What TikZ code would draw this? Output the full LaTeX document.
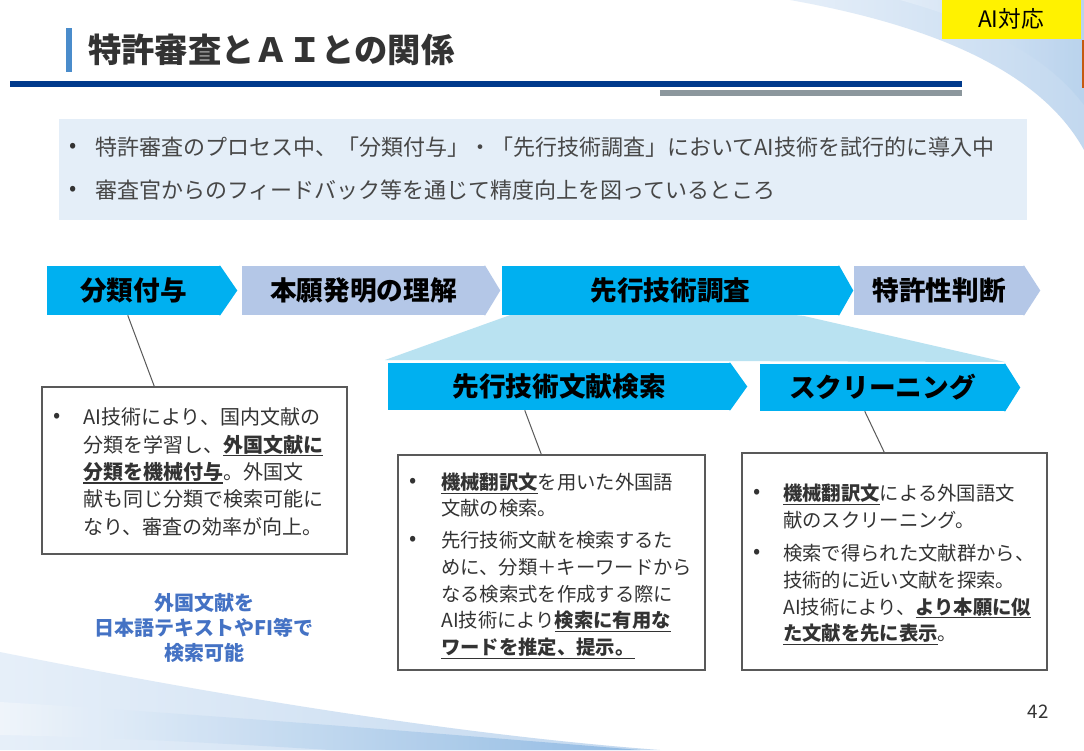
\documentclass[tikz,border=0pt]{standalone}
\usepackage{fontspec}
\setmainfont{Noto Sans CJK JP}
\usetikzlibrary{calc}
\definecolor{cyanA}{HTML}{00B0F0}
\definecolor{peri}{HTML}{B4C7E7}
\definecolor{trap}{HTML}{B9E2F1}
\definecolor{navy}{HTML}{003A8C}
\definecolor{grayL}{HTML}{8C979D}
\definecolor{bgbox}{HTML}{E4EEF8}
\definecolor{txt}{HTML}{333333}
\definecolor{edge}{HTML}{595959}
\definecolor{bluetxt}{HTML}{4472C4}
\definecolor{accent}{HTML}{4A8CCB}
\definecolor{swA}{HTML}{E6EFF9}
\definecolor{swB}{HTML}{C2D8EF}
\definecolor{swC}{HTML}{8DB8E2}
\definecolor{orangeL}{HTML}{C55A11}
\def\pxu{0.75pt}
\tikzset{
  chevbody/.style={inner sep=0pt, minimum height=49*\pxu, font=\bfseries\fontsize{20}{24}\selectfont, text=black},
  cyanbody/.style={chevbody, fill=cyanA},
  peribody/.style={chevbody, fill=peri},
  textbox/.style={draw=edge, line width=1.5*\pxu, fill=white, inner sep=0pt},
  conn/.style={draw=edge, line width=1*\pxu},
  para/.style={anchor=north west, inner sep=0pt, align=left, text=txt},
  bullet/.style={inner sep=0pt, text=txt, font=\fontsize{16}{18}\selectfont},
}
\newcommand\tipfill[3]{\fill[#1] ($(#2.north east)+(-1,0)$) -- (#2.north east) -- ($(#2.east)+(#3,0)$) -- (#2.south east) -- ($(#2.south east)+(-1,0)$) -- cycle;}
\newcommand\ulb[1]{\setbox0\hbox{\textbf{#1}}\rlap{\rule[-0.22em]{\wd0}{1.1pt}}\box0}
\begin{document}
\begin{tikzpicture}[x=0.75pt,y=-0.75pt]
\useasboundingbox (0,0) rectangle (1084,750);
\fill[white] (0,0) rectangle (1084,750);
% decorative swooshes
\shade[left color=swA, right color=swB] (790,0) .. controls (930,25) and (1040,70) .. (1084,150) -- (1084,0) -- cycle;
\shade[left color=swA, right color=swB!80!swC, opacity=0.8] (900,0) .. controls (990,25) and (1050,60) .. (1084,105) -- (1084,0) -- cycle;
\shade[left color=swA, right color=swB] (0,652) .. controls (150,682) and (420,732) .. (660,750) -- (0,750) -- cycle;
\shade[left color=swA!60!white, right color=swC, opacity=0.9] (0,702) .. controls (200,714) and (420,732) .. (640,750) -- (330,750) .. controls (200,742) and (100,737) .. (0,735) -- cycle;
% header
\fill[yellow] (942,0) rectangle (1081,39);
\node[inner sep=0pt, font=\fontsize{17}{20}\selectfont] (ai) at (1011,19) {AI対応};
\draw[orangeL, line width=1.5*\pxu] (1083,40) -- (1083,88);
\fill[accent] (66,28) rectangle (72,72);
\node[anchor=west, inner sep=0pt, font=\bfseries\fontsize{25}{29}\selectfont, text=txt] (title) at (88,50) {特許審査とＡＩとの関係};
\fill[navy] (10,81) rectangle (962,87);
\fill[grayL] (660,90) rectangle (962,96);
% summary box
\fill[bgbox] (59,119) rectangle (1027,220);
\node[bullet] (s1b) at (73,148) {•};
\node[anchor=west, inner sep=0pt, text=txt!90!white, font=\fontsize{16.5}{20}\selectfont] (s1) at (95,147) {特許審査のプロセス中、「分類付与」・「先行技術調査」においてAI技術を試行的に導入中};
\node[bullet] (s2b) at (73,191) {•};
\node[anchor=west, inner sep=0pt, text=txt!90!white, font=\fontsize{16.5}{20}\selectfont] (s2) at (95,190) {審査官からのフィードバック等を通じて精度向上を図っているところ};
% trapezoid
\fill[trap] (385,360) -- (580,290) -- (804,316) -- (1005,362) -- cycle;
% process row
\node[cyanbody, minimum width=173*\pxu] (cls) at (133.5,290.5) {分類付与};
\tipfill{cyanA}{cls}{17}
\node[peribody, minimum width=243*\pxu] (und) at (363.5,290.5) {本願発明の理解};
\tipfill{peri}{und}{15}
\node[cyanbody, minimum width=337*\pxu] (srch) at (670.5,290.5) {先行技術調査};
\tipfill{cyanA}{srch}{14}
\node[peribody, minimum width=170*\pxu] (pat) at (939,290.5) {特許性判断};
\tipfill{peri}{pat}{16}
\node[cyanbody, minimum width=342*\pxu, minimum height=47*\pxu] (lit) at (559,386.5) {先行技術文献検索};
\tipfill{cyanA}{lit}{17}
\node[cyanbody, minimum width=245*\pxu, minimum height=47*\pxu] (scr) at (882.5,387.5) {スクリーニング};
\tipfill{cyanA}{scr}{15}
% boxes
\node[textbox, minimum width=305*\pxu, minimum height=167*\pxu] (b1) at (194.5,470.5) {};
\node[textbox, minimum width=307*\pxu, minimum height=215*\pxu] (b2) at (551.5,562.5) {};
\node[textbox, minimum width=305*\pxu, minimum height=217*\pxu] (b3) at (894.5,561.5) {};
% connectors
\draw[conn] ($(cls.south west)+(81,0)$) -- ($(b1.north west)+(113,0)$);
\draw[conn] ($(lit.south west)+(137,0)$) -- ($(b2.north west)+(144,0)$);
\draw[conn] ($(scr.south west)+(105,0)$) -- ($(b3.north west)+(143,0)$);
% box 1 text
\node[bullet] (b1b) at (57,418) {•};
\node[para, font=\fontsize{15}{20.6}\selectfont] (b1t) at (83,407.5) {AI技術により、国内文献の\\分類を学習し、\ulb{外国文献に}\\\ulb{分類を機械付与}。外国文\\献も同じ分類で検索可能に\\なり、審査の効率が向上。};
% blue note
\node[inner sep=0pt, align=center, text=bluetxt, font=\bfseries\fontsize{15}{18.75}\selectfont] (note) at (204,628) {外国文献を\\日本語テキストやFI等で\\検索可能};
% box 2 text
\node[bullet] (b2b1) at (413,483) {•};
\node[para, font=\fontsize{14.5}{19.6}\selectfont] (b2t1) at (441,473) {\ulb{機械翻訳文}を用いた外国語\\文献の検索。};
\node[bullet] (b2b2) at (413,541) {•};
\node[para, font=\fontsize{14.5}{20.1}\selectfont] (b2t2) at (441,531) {先行技術文献を検索するた\\めに、分類＋キーワードから\\なる検索式を作成する際に\\AI技術により\ulb{検索に有用な}\\\ulb{ワードを推定、提示。}};
% box 3 text
\node[bullet] (b3b1) at (757,494) {•};
\node[para, font=\fontsize{14.5}{20.1}\selectfont] (b3t1) at (783,484) {\ulb{機械翻訳文}による外国語文\\献のスクリーニング。};
\node[bullet] (b3b2) at (757,554) {•};
\node[para, font=\fontsize{14.5}{20.1}\selectfont] (b3t2) at (783,544) {検索で得られた文献群から、\\技術的に近い文献を探索。\\AI技術により、\ulb{より本願に似}\\\ulb{た文献を先に表示}。};
% page number
\node[inner sep=0pt, text=txt, font=\fontsize{14}{16}\selectfont] (pg) at (1038,712) {42};
\end{tikzpicture}
\end{document}
